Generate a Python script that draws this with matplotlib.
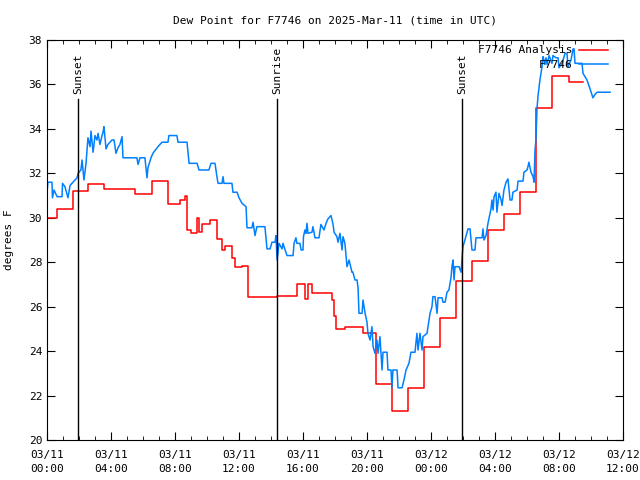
import matplotlib
matplotlib.use("Agg")
import matplotlib.pyplot as plt

plt.rcParams["font.family"] = "DejaVu Sans Mono"

# hours since 2025-03-11 00:00 UTC
obs_h = [0.00, 0.06, 0.31, 0.34, 0.44, 0.63, 0.94, 0.97, 1.12, 1.31, 1.44, 1.62, 1.88, 1.94,
         2.12, 2.19, 2.31, 2.44, 2.50, 2.56, 2.69, 2.75, 2.88, 3.00, 3.12, 3.19, 3.31, 3.44,
         3.50, 3.56, 3.69, 3.81, 4.06, 4.19, 4.31, 4.44, 4.56, 4.69, 4.75, 5.62, 5.69, 5.81,
         6.12, 6.25, 6.31, 6.50, 6.62, 6.88, 7.06, 7.19, 7.56, 7.62, 8.12, 8.19, 8.75, 8.88,
         9.38, 9.50, 10.12, 10.25, 10.50, 10.62, 10.69, 10.94, 11.00, 11.06, 11.56, 11.62,
         11.88, 12.00, 12.19, 12.44, 12.50, 12.81, 12.88, 13.00, 13.12, 13.62, 13.75, 13.94,
         14.06, 14.25, 14.31, 14.38, 14.50, 14.69, 14.75, 14.88, 15.00, 15.38, 15.44, 15.56,
         15.62, 15.81, 15.88, 16.00, 16.03, 16.12, 16.19, 16.25, 16.31, 16.56, 16.62, 16.75,
         17.00, 17.12, 17.31, 17.44, 17.56, 17.75, 17.88, 17.94, 18.12, 18.19, 18.31, 18.44,
         18.50, 18.62, 18.75, 18.88, 19.06, 19.12, 19.25, 19.38, 19.44, 19.50, 19.69, 19.75,
         19.88, 20.00, 20.06, 20.19, 20.31, 20.38, 20.50, 20.62, 20.69, 20.81, 20.94, 21.00,
         21.25, 21.31, 21.50, 21.56, 21.62, 21.88, 21.94, 22.19, 22.31, 22.44, 22.62, 22.75,
         23.00, 23.12, 23.19, 23.31, 23.44, 23.50, 23.75, 23.94, 24.06, 24.12, 24.25, 24.38,
         24.44, 24.69, 24.75, 24.88, 25.00, 25.12, 25.25, 25.31, 25.38, 25.44, 25.50, 25.75,
         25.88, 25.94, 26.00, 26.12, 26.31, 26.44, 26.56, 26.75, 26.81, 27.19, 27.25, 27.31,
         27.44, 27.56, 27.62, 27.75, 27.81, 27.88, 27.94, 28.06, 28.12, 28.19, 28.25, 28.38,
         28.44, 28.56, 28.69, 28.81, 28.88, 28.94, 29.06, 29.12, 29.38, 29.44, 29.75, 29.81,
         30.00, 30.06, 30.12, 30.25, 30.38, 30.44, 30.50, 30.56, 30.62, 30.69, 30.81, 30.94,
         31.00, 31.06, 31.12, 31.19, 31.25, 31.38, 31.56, 31.62, 31.81, 31.94, 32.00, 32.19,
         32.38, 32.50, 32.56, 32.75, 32.88, 32.94, 33.00, 33.44, 33.50, 33.75, 33.94, 34.12,
         34.25, 34.38, 35.19]
obs_dp = [31.15, 31.6, 31.6, 30.9, 31.25, 30.95, 30.95, 31.55, 31.4, 30.9, 31.45, 31.6, 31.8, 32.0,
          32.15, 32.6, 31.7, 32.45, 33.05, 33.6, 33.2, 33.9, 32.95, 33.7, 33.5, 33.8, 33.3, 33.7,
          33.85, 34.1, 33.1, 33.3, 33.5, 33.5, 32.9, 33.15, 33.3, 33.65, 32.7, 32.7, 32.4, 32.7,
          32.7, 31.8, 32.25, 32.7, 32.9, 33.15, 33.3, 33.4, 33.4, 33.7, 33.7, 33.4, 33.4, 32.45,
          32.45, 32.15, 32.15, 32.45, 32.45, 31.85, 31.55, 31.55, 31.85, 31.55, 31.55, 31.15,
          31.15, 30.9, 30.65, 30.5, 29.55, 29.55, 29.8, 29.2, 29.6, 29.6, 28.6, 28.6,
          28.9, 28.9, 29.2, 28.1, 28.85, 28.6, 28.85, 28.55, 28.3, 28.3, 28.85, 29.1,
          28.85, 28.85, 28.55, 28.55, 29.15, 29.45, 29.3, 29.75, 29.3, 29.35, 29.6, 29.1,
          29.1, 29.7, 29.45, 29.75, 29.95, 30.1, 29.7, 29.35, 29.15, 28.9, 29.3, 28.55,
          29.15, 28.85, 27.8, 28.1, 27.55, 27.55, 27.2, 27.2, 26.85, 25.7, 25.7, 26.3,
          25.7, 25.3, 24.8, 24.5, 25.1, 24.2, 23.9, 24.5, 23.9, 24.65, 23.15, 23.95,
          23.95, 23.15, 23.15, 22.35, 23.15, 23.15, 22.35, 22.35, 22.7, 23.15, 23.45, 23.95,
          23.95, 24.8, 24.05, 24.8, 24.05, 24.65, 24.8, 25.7, 26.0, 26.45, 26.45, 25.7,
          26.4, 26.4, 26.2, 26.2, 26.65, 26.75, 27.3, 27.8, 28.1, 27.2, 27.8, 27.8,
          27.55, 28.2, 28.7, 29.0, 29.5, 29.5, 28.55, 28.55, 29.1, 29.1, 29.5, 29.0,
          29.2, 29.75, 29.95, 30.4, 30.8, 30.35, 30.95, 31.15, 30.25, 30.7, 31.1, 30.8,
          30.55, 31.25, 31.6, 31.75, 31.25, 30.8, 30.8, 31.15, 31.25, 31.65, 31.65, 32.05,
          32.15, 32.3, 32.5, 32.05, 31.85, 31.6, 33.05, 33.5, 34.85, 35.5, 36.2, 36.8,
          37.25, 37.1, 36.9, 37.2, 36.9, 37.3, 36.95, 37.3, 37.2, 37.2, 36.75, 36.95,
          37.4, 37.4, 36.8, 37.1, 37.6, 37.6, 36.95, 36.95, 36.5, 36.2, 35.8, 35.4,
          35.55, 35.65, 35.65]

ana_h = [0.00, 0.62, 1.62, 2.56, 3.56, 5.50, 6.56, 7.56, 8.31, 8.62, 8.75, 9.00, 9.38, 9.50,
         9.69, 10.19, 10.62, 10.94, 11.12, 11.56, 11.75, 12.19, 12.56, 14.38, 15.62, 16.12,
         16.31, 16.56, 17.81, 17.94, 18.06, 18.62, 19.75, 20.56, 21.56, 22.56, 23.56, 24.56,
         25.56, 26.56, 27.56, 28.56, 29.56, 30.56, 31.56, 32.62, 33.50]
ana_dp = [30.0, 30.4, 31.2, 31.5, 31.3, 31.07, 31.65, 30.6, 30.8, 31.0, 29.45, 29.3, 30.0, 29.35,
          29.7, 29.9, 29.05, 28.55, 28.75, 28.2, 27.8, 27.85, 26.43, 26.48, 27.0, 26.35,
          27.0, 26.6, 26.3, 25.6, 25.0, 25.1, 24.8, 22.5, 21.3, 22.35, 24.2, 25.5,
          27.15, 28.05, 29.45, 30.17, 31.15, 34.95, 36.4, 36.1, 36.1]

events = ["Sunset", "Sunrise", "Sunset"]
event_h = [1.94, 14.38, 25.94]

tick_h = list(range(0, 37, 4))
tick_labels = ["03/11\n00:00", "03/11\n04:00", "03/11\n08:00", "03/11\n12:00", "03/11\n16:00",
               "03/11\n20:00", "03/12\n00:00", "03/12\n04:00", "03/12\n08:00", "03/12\n12:00"]

fig = plt.figure(figsize=(6.4, 4.8), dpi=100)
ax = fig.add_axes([47 / 640, 40 / 480, 576 / 640, 400 / 480])

ax.step(ana_h, ana_dp, where="post", color="#ff0000", lw=1.1, label="F7746 Analysis")
ax.plot(obs_h, obs_dp, color="#0080ff", lw=1.1, label="F7746")

for name, h in zip(events, event_h):
    ax.plot([h, h], [20, 35.35], color="black", lw=1)
    ax.text(h, 35.55, name, rotation=90, ha="center", va="bottom", fontsize=8)

ax.set_xlim(0, 36)
ax.set_ylim(20, 38)
ax.set_xticks(tick_h)
ax.set_xticklabels(tick_labels, fontsize=8, linespacing=1.5)
ax.set_xticks(range(0, 37), minor=True)
ax.set_yticks(range(20, 39, 2))
ax.tick_params(axis="both", which="both", direction="in", top=True, right=True, labelsize=8)
ax.tick_params(which="major", length=6)
ax.tick_params(which="minor", length=3)
ax.tick_params(axis="x", pad=7)

ax.set_ylabel("degrees F", fontsize=8)
ax.yaxis.set_label_coords(-0.058, 0.5)
ax.set_title("Dew Point for F7746 on 2025-Mar-11 (time in UTC)", fontsize=8, pad=12)

ax.legend(loc="upper right", frameon=False, markerfirst=False, fontsize=8,
          handlelength=2.6, handletextpad=0.6, borderaxespad=0.2, labelspacing=0.4,
          bbox_to_anchor=(0.985, 1.003))

fig.savefig("out.png", dpi=100)
